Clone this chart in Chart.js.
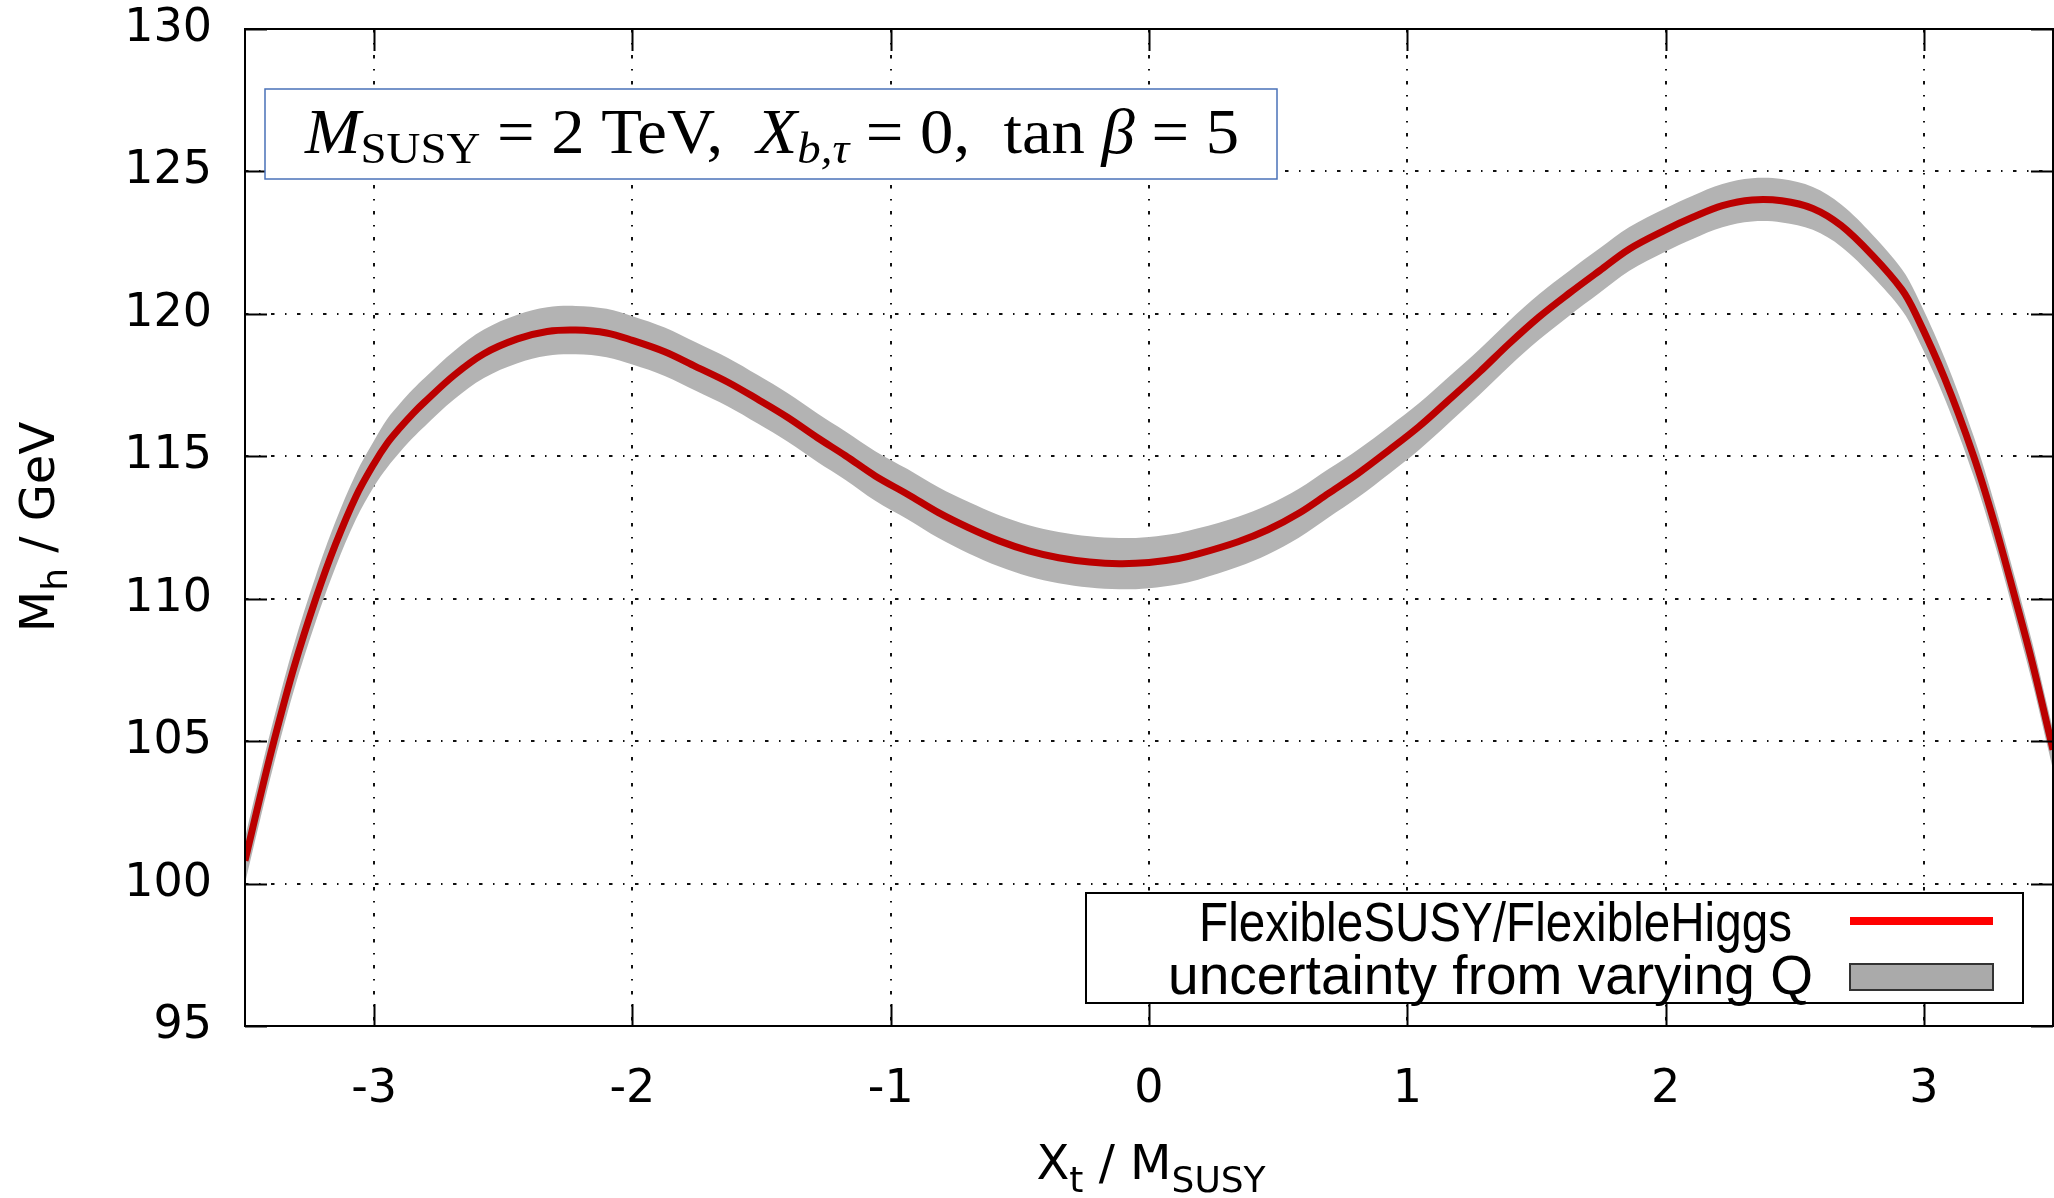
<!DOCTYPE html>
<html>
<head>
<meta charset="utf-8">
<script src="https://cdn.jsdelivr.net/npm/chart.js@4.4.1/dist/chart.umd.min.js"></script>
<style>
  html, body { margin: 0; padding: 0; background: #fff; }
  canvas { display: block; }
</style>
</head>
<body>
<canvas id="mhChart" width="2054" height="1198"></canvas>
<script>
// Xt / MSUSY sample points
var xt = [-3.5, -3.44, -3.388, -3.31, -3.226, -3.15, -3.07, -3.0, -2.95, -2.9, -2.85, -2.805, -2.69, -2.575, -2.445,
  -2.33, -2.22, -2.1, -2.0, -1.875, -1.755, -1.63, -1.515, -1.4, -1.285,
  -1.175, -1.06, -0.935, -0.815, -0.7, -0.58, -0.465, -0.35, -0.23, -0.115,
  0.0, 0.115, 0.19, 0.345, 0.46, 0.58, 0.695, 0.81, 0.93, 1.045,
  1.16, 1.28, 1.395, 1.51, 1.625, 1.745, 1.86, 2.0, 2.105, 2.22,
  2.335, 2.45, 2.57, 2.68,
  2.8, 2.915, 2.968, 3.08, 3.193, 3.275, 3.354, 3.42, 3.483, 3.5];

// central Mh (FlexibleSUSY/FlexibleHiggs)
var mh = [100.8, 103.1, 105.0, 107.6, 110.0, 111.9, 113.6, 114.75, 115.45, 116.0, 116.5, 116.9, 117.85, 118.6, 119.12,
  119.38, 119.43, 119.33, 119.07, 118.67, 118.15, 117.6, 117.0, 116.37, 115.66,
  115.02, 114.31, 113.67, 113.02, 112.5, 112.03, 111.68, 111.44, 111.29, 111.23,
  111.27, 111.41, 111.57, 112.0, 112.42, 113.0, 113.7, 114.4, 115.22, 116.04,
  116.97, 117.96, 118.96, 119.89, 120.71, 121.52, 122.28, 122.95, 123.39, 123.8,
  124.0, 123.97, 123.7, 123.1,
  122.06, 120.85, 120.0, 117.75, 115.0, 112.6, 110.0, 107.75, 105.35, 104.7];

// band edges (uncertainty from varying Q)
var mhLow = [100.0, 102.3, 104.2, 106.8, 109.2, 111.1, 112.8, 113.95, 114.6, 115.15, 115.65, 116.05, 117.0, 117.75, 118.27,
  118.53, 118.58, 118.48, 118.22, 117.82, 117.3, 116.75, 116.15, 115.52, 114.81,
  114.17, 113.44, 112.79, 112.13, 111.6, 111.13, 110.78, 110.54, 110.39, 110.33,
  110.37, 110.51, 110.67, 111.12, 111.55, 112.14, 112.85, 113.56, 114.39, 115.22,
  116.16, 117.16, 118.16, 119.09, 119.92, 120.74, 121.51, 122.19, 122.63, 123.04,
  123.24, 123.21, 122.95, 122.36,
  121.33, 120.13, 119.28, 117.04, 114.3, 111.9, 109.3, 107.05, 104.65, 104.0];
var mhHigh = [101.6, 103.9, 105.8, 108.4, 110.8, 112.7, 114.4, 115.55, 116.3, 116.85, 117.35, 117.75, 118.7, 119.45, 119.97,
  120.23, 120.28, 120.18, 119.92, 119.52, 119.0, 118.45, 117.85, 117.22, 116.51,
  115.87, 115.18, 114.55, 113.91, 113.4, 112.93, 112.58, 112.34, 112.19, 112.13,
  112.17, 112.31, 112.47, 112.88, 113.29, 113.86, 114.55, 115.24, 116.05, 116.86,
  117.78, 118.76, 119.76, 120.69, 121.5, 122.3, 123.05, 123.71, 124.15, 124.56,
  124.76, 124.73, 124.45, 123.84,
  122.79, 121.57, 120.72, 118.46, 115.7, 113.3, 110.7, 108.45, 106.05, 105.4];

var xTicks = [-3, -2, -1, 0, 1, 2, 3];
var yTicks = [95, 100, 105, 110, 115, 120, 125, 130];
var legendLabels = ["FlexibleSUSY/FlexibleHiggs", "uncertainty from varying Q"];

function pts(ys) {
  return xt.map(function (x, i) { return { x: x, y: ys[i] }; });
}

// draws a run of text pieces [text, font, dy] starting at x
function drawParts(ctx, parts, x, y) {
  parts.forEach(function (p) {
    ctx.font = p[1];
    ctx.fillText(p[0], x, y + (p[2] || 0));
    x += ctx.measureText(p[0]).width;
  });
}
function partsWidth(ctx, parts) {
  var w = 0;
  parts.forEach(function (p) { ctx.font = p[1]; w += ctx.measureText(p[0]).width; });
  return w;
}

var decorations = {
  id: 'decorations',
  afterDraw: function (chart) {
    var ctx = chart.ctx;
    var a = chart.chartArea;
    var sx = chart.scales.x, sy = chart.scales.y;
    ctx.save();

    // frame + inward ticks on all four sides
    ctx.strokeStyle = '#000';
    ctx.lineWidth = 2;
    ctx.setLineDash([]);
    ctx.strokeRect(a.left, a.top, a.right - a.left, a.bottom - a.top);
    ctx.beginPath();
    xTicks.forEach(function (v) {
      var px = Math.round(sx.getPixelForValue(v)) + 0.5;
      ctx.moveTo(px, a.bottom); ctx.lineTo(px, a.bottom - 22);
      ctx.moveTo(px, a.top); ctx.lineTo(px, a.top + 22);
    });
    yTicks.forEach(function (v) {
      var py = Math.round(sy.getPixelForValue(v)) + 0.5;
      ctx.moveTo(a.left, py); ctx.lineTo(a.left + 22, py);
      ctx.moveTo(a.right, py); ctx.lineTo(a.right - 22, py);
    });
    ctx.stroke();

    // parameter box
    ctx.fillStyle = '#fff';
    ctx.fillRect(265, 89, 1012, 90);
    ctx.strokeStyle = '#4a72b8';
    ctx.lineWidth = 1.5;
    ctx.strokeRect(265, 89, 1012, 90);
    ctx.fillStyle = '#000';
    ctx.textBaseline = 'alphabetic';
    ctx.textAlign = 'left';
    var big = '64px "Liberation Serif"', bigI = 'italic 64px "Liberation Serif"';
    var sub = '45px "Liberation Serif"', subI = 'italic 45px "Liberation Serif"';
    var anno = [
      ['M', bigI], ['SUSY', sub, 10], [' = 2 TeV,  ', big],
      ['X', bigI], ['b,\u03c4', subI, 10], [' = 0,  tan ', big],
      ['\u03b2', bigI], [' = 5', big]
    ];
    var w = partsWidth(ctx, anno);
    ctx.save();
    ctx.translate(305, 153);
    ctx.scale(934 / w, 1);
    drawParts(ctx, anno, 0, 0);
    ctx.restore();

    // legend
    ctx.fillStyle = '#fff';
    ctx.fillRect(1086, 893, 937, 110);
    ctx.strokeStyle = '#000';
    ctx.lineWidth = 2;
    ctx.strokeRect(1086, 893, 937, 110);
    ctx.fillStyle = '#000';
    ctx.textAlign = 'right';
    ctx.font = '55px "Liberation Sans"';
    ctx.save();
    ctx.translate(1792, 941);
    ctx.scale(0.866, 1);
    ctx.fillText(legendLabels[0], 0, 0);
    ctx.restore();
    ctx.fillText(legendLabels[1], 1813, 994);
    ctx.strokeStyle = '#ff0000';
    ctx.lineWidth = 8;
    ctx.beginPath();
    ctx.moveTo(1850, 921); ctx.lineTo(1993, 921);
    ctx.stroke();
    ctx.fillStyle = '#aaaaaa';
    ctx.fillRect(1850, 964, 143, 26);
    ctx.strokeStyle = '#333';
    ctx.lineWidth = 2;
    ctx.strokeRect(1850, 964, 143, 26);

    // axis titles
    ctx.fillStyle = '#000';
    ctx.textAlign = 'left';
    var main = '48px "DejaVu Sans"', small = '36px "DejaVu Sans"';
    var xTitle = [['X', main], ['t', small, 13], [' / M', main], ['SUSY', small, 13]];
    var xw = partsWidth(ctx, xTitle);
    drawParts(ctx, xTitle, 1151 - xw / 2, 1179);
    var yTitle = [['M', main], ['h', small, 13], [' / GeV', main]];
    var yw = partsWidth(ctx, yTitle);
    ctx.save();
    ctx.translate(54, 527);
    ctx.rotate(-Math.PI / 2);
    drawParts(ctx, yTitle, -yw / 2, 0);
    ctx.restore();

    ctx.restore();
  }
};

var gridDash = [3.5, 10.5, 1.5, 10.5];

new Chart(document.getElementById('mhChart'), {
  type: 'line',
  data: {
    datasets: [{
      label: legendLabels[0],
      data: pts(mh),
      borderColor: '#bb0000',
      borderWidth: 7,
      pointRadius: 0,
      fill: false,
      tension: 0.35,
      clip: 0
    }, {
      label: 'low',
      data: pts(mhLow),
      borderWidth: 0,
      borderColor: 'rgba(0,0,0,0)',
      pointRadius: 0,
      fill: false,
      tension: 0.35,
      clip: 0
    }, {
      label: legendLabels[1],
      data: pts(mhHigh),
      borderWidth: 0,
      borderColor: 'rgba(0,0,0,0)',
      backgroundColor: '#b3b3b3',
      pointRadius: 0,
      fill: '-1',
      tension: 0.35,
      clip: 0
    }]
  },
  options: {
    responsive: false,
    devicePixelRatio: 1,
    animation: false,
    events: [],
    layout: { padding: { top: 29, right: 1, left: 0, bottom: 0 } },
    plugins: { legend: { display: false }, tooltip: { enabled: false } },
    scales: {
      x: {
        type: 'linear',
        min: -3.5,
        max: 3.5,
        afterBuildTicks: function (s) { s.ticks = xTicks.map(function (v) { return { value: v }; }); },
        afterFit: function (s) { s.height = 172; s.paddingLeft = 0; s.paddingRight = 0; },
        grid: { color: '#111', lineWidth: 2, drawTicks: false },
        border: { display: false, dash: gridDash },
        ticks: { font: { family: 'DejaVu Sans', size: 46 }, color: '#000', padding: 36, maxRotation: 0 }
      },
      y: {
        min: 95,
        max: 130,
        afterBuildTicks: function (s) { s.ticks = yTicks.map(function (v) { return { value: v }; }); },
        afterFit: function (s) { s.width = 245; s.paddingTop = 0; s.paddingBottom = 0; },
        grid: { color: '#111', lineWidth: 2, drawTicks: false },
        border: { display: false, dash: gridDash },
        ticks: { font: { family: 'DejaVu Sans', size: 46 }, color: '#000', padding: 33 }
      }
    }
  },
  plugins: [decorations]
});
</script>
</body>
</html>
